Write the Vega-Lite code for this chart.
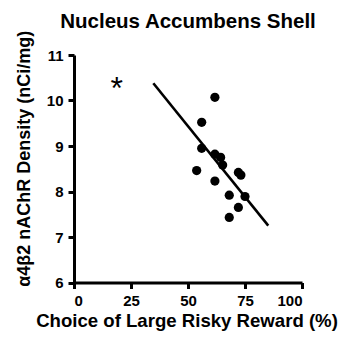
{
  "$schema": "https://vega.github.io/schema/vega-lite/v6.json",
  "width": 228,
  "height": 227.5,
  "autosize": "none",
  "padding": {"left": 74, "top": 55, "right": 40, "bottom": 54.5},
  "background": "white",
  "title": {
    "text": "Nucleus Accumbens Shell",
    "font": "Liberation Sans",
    "fontSize": 20.5,
    "fontWeight": "bold",
    "color": "black",
    "baseline": "alphabetic",
    "offset": 6,
    "dy": 24
  },
  "datasets": {
    "animals": [
      {"choice": 61.8, "density": 10.07},
      {"choice": 56.0, "density": 9.52},
      {"choice": 56.0, "density": 8.95},
      {"choice": 61.8, "density": 8.82},
      {"choice": 64.3, "density": 8.75},
      {"choice": 65.2, "density": 8.58},
      {"choice": 53.8, "density": 8.46},
      {"choice": 61.8, "density": 8.23},
      {"choice": 72.1, "density": 8.42},
      {"choice": 73.2, "density": 8.36},
      {"choice": 68.1, "density": 7.92},
      {"choice": 75.0, "density": 7.89},
      {"choice": 72.1, "density": 7.65},
      {"choice": 68.1, "density": 7.43}
    ],
    "fit": [
      {"choice": 34.8, "density": 10.38},
      {"choice": 85.2, "density": 7.25}
    ],
    "marker": [
      {"choice": 18.7, "density": 10.35, "label": "*"}
    ]
  },
  "encoding": {
    "x": {
      "field": "choice",
      "type": "quantitative",
      "scale": {"domain": [0, 100], "nice": false, "zero": false},
      "axis": {
        "title": "Choice of Large Risky Reward (%)",
        "values": [0, 25, 50, 75, 100],
        "titleFontSize": 18.6,
        "titleBaseline": "alphabetic",
        "titleX": 112.5,
        "titleY": 43.5
      }
    },
    "y": {
      "field": "density",
      "type": "quantitative",
      "scale": {"domain": [6, 11], "nice": false, "zero": false},
      "axis": {
        "title": "α4β2 nAChR Density (nCi/mg)",
        "values": [6, 7, 8, 9, 10, 11],
        "titleFontSize": 18,
        "titleBaseline": "alphabetic",
        "titleAngle": -90,
        "titleX": -44.5,
        "titleY": 103.3
      }
    }
  },
  "layer": [
    {
      "data": {"name": "fit"},
      "mark": {"type": "line", "color": "black", "strokeWidth": 2.6}
    },
    {
      "data": {"name": "animals"},
      "mark": {"type": "point", "filled": true, "color": "black", "opacity": 1, "size": 85}
    },
    {
      "data": {"name": "marker"},
      "mark": {"type": "text", "font": "Liberation Sans", "fontSize": 32, "color": "black", "baseline": "middle", "align": "center", "dy": 4},
      "encoding": {"text": {"field": "label"}}
    }
  ],
  "config": {
    "view": {"stroke": null},
    "font": "Liberation Sans",
    "axis": {
      "grid": false,
      "domainColor": "black",
      "domainWidth": 3,
      "tickColor": "black",
      "tickWidth": 3,
      "tickSize": 6,
      "labelFont": "Liberation Sans",
      "labelFontSize": 15,
      "labelFontWeight": "bold",
      "labelColor": "black",
      "labelPadding": 5,
      "titleFont": "Liberation Sans",
      "titleFontWeight": "bold",
      "titleColor": "black"
    }
  }
}
